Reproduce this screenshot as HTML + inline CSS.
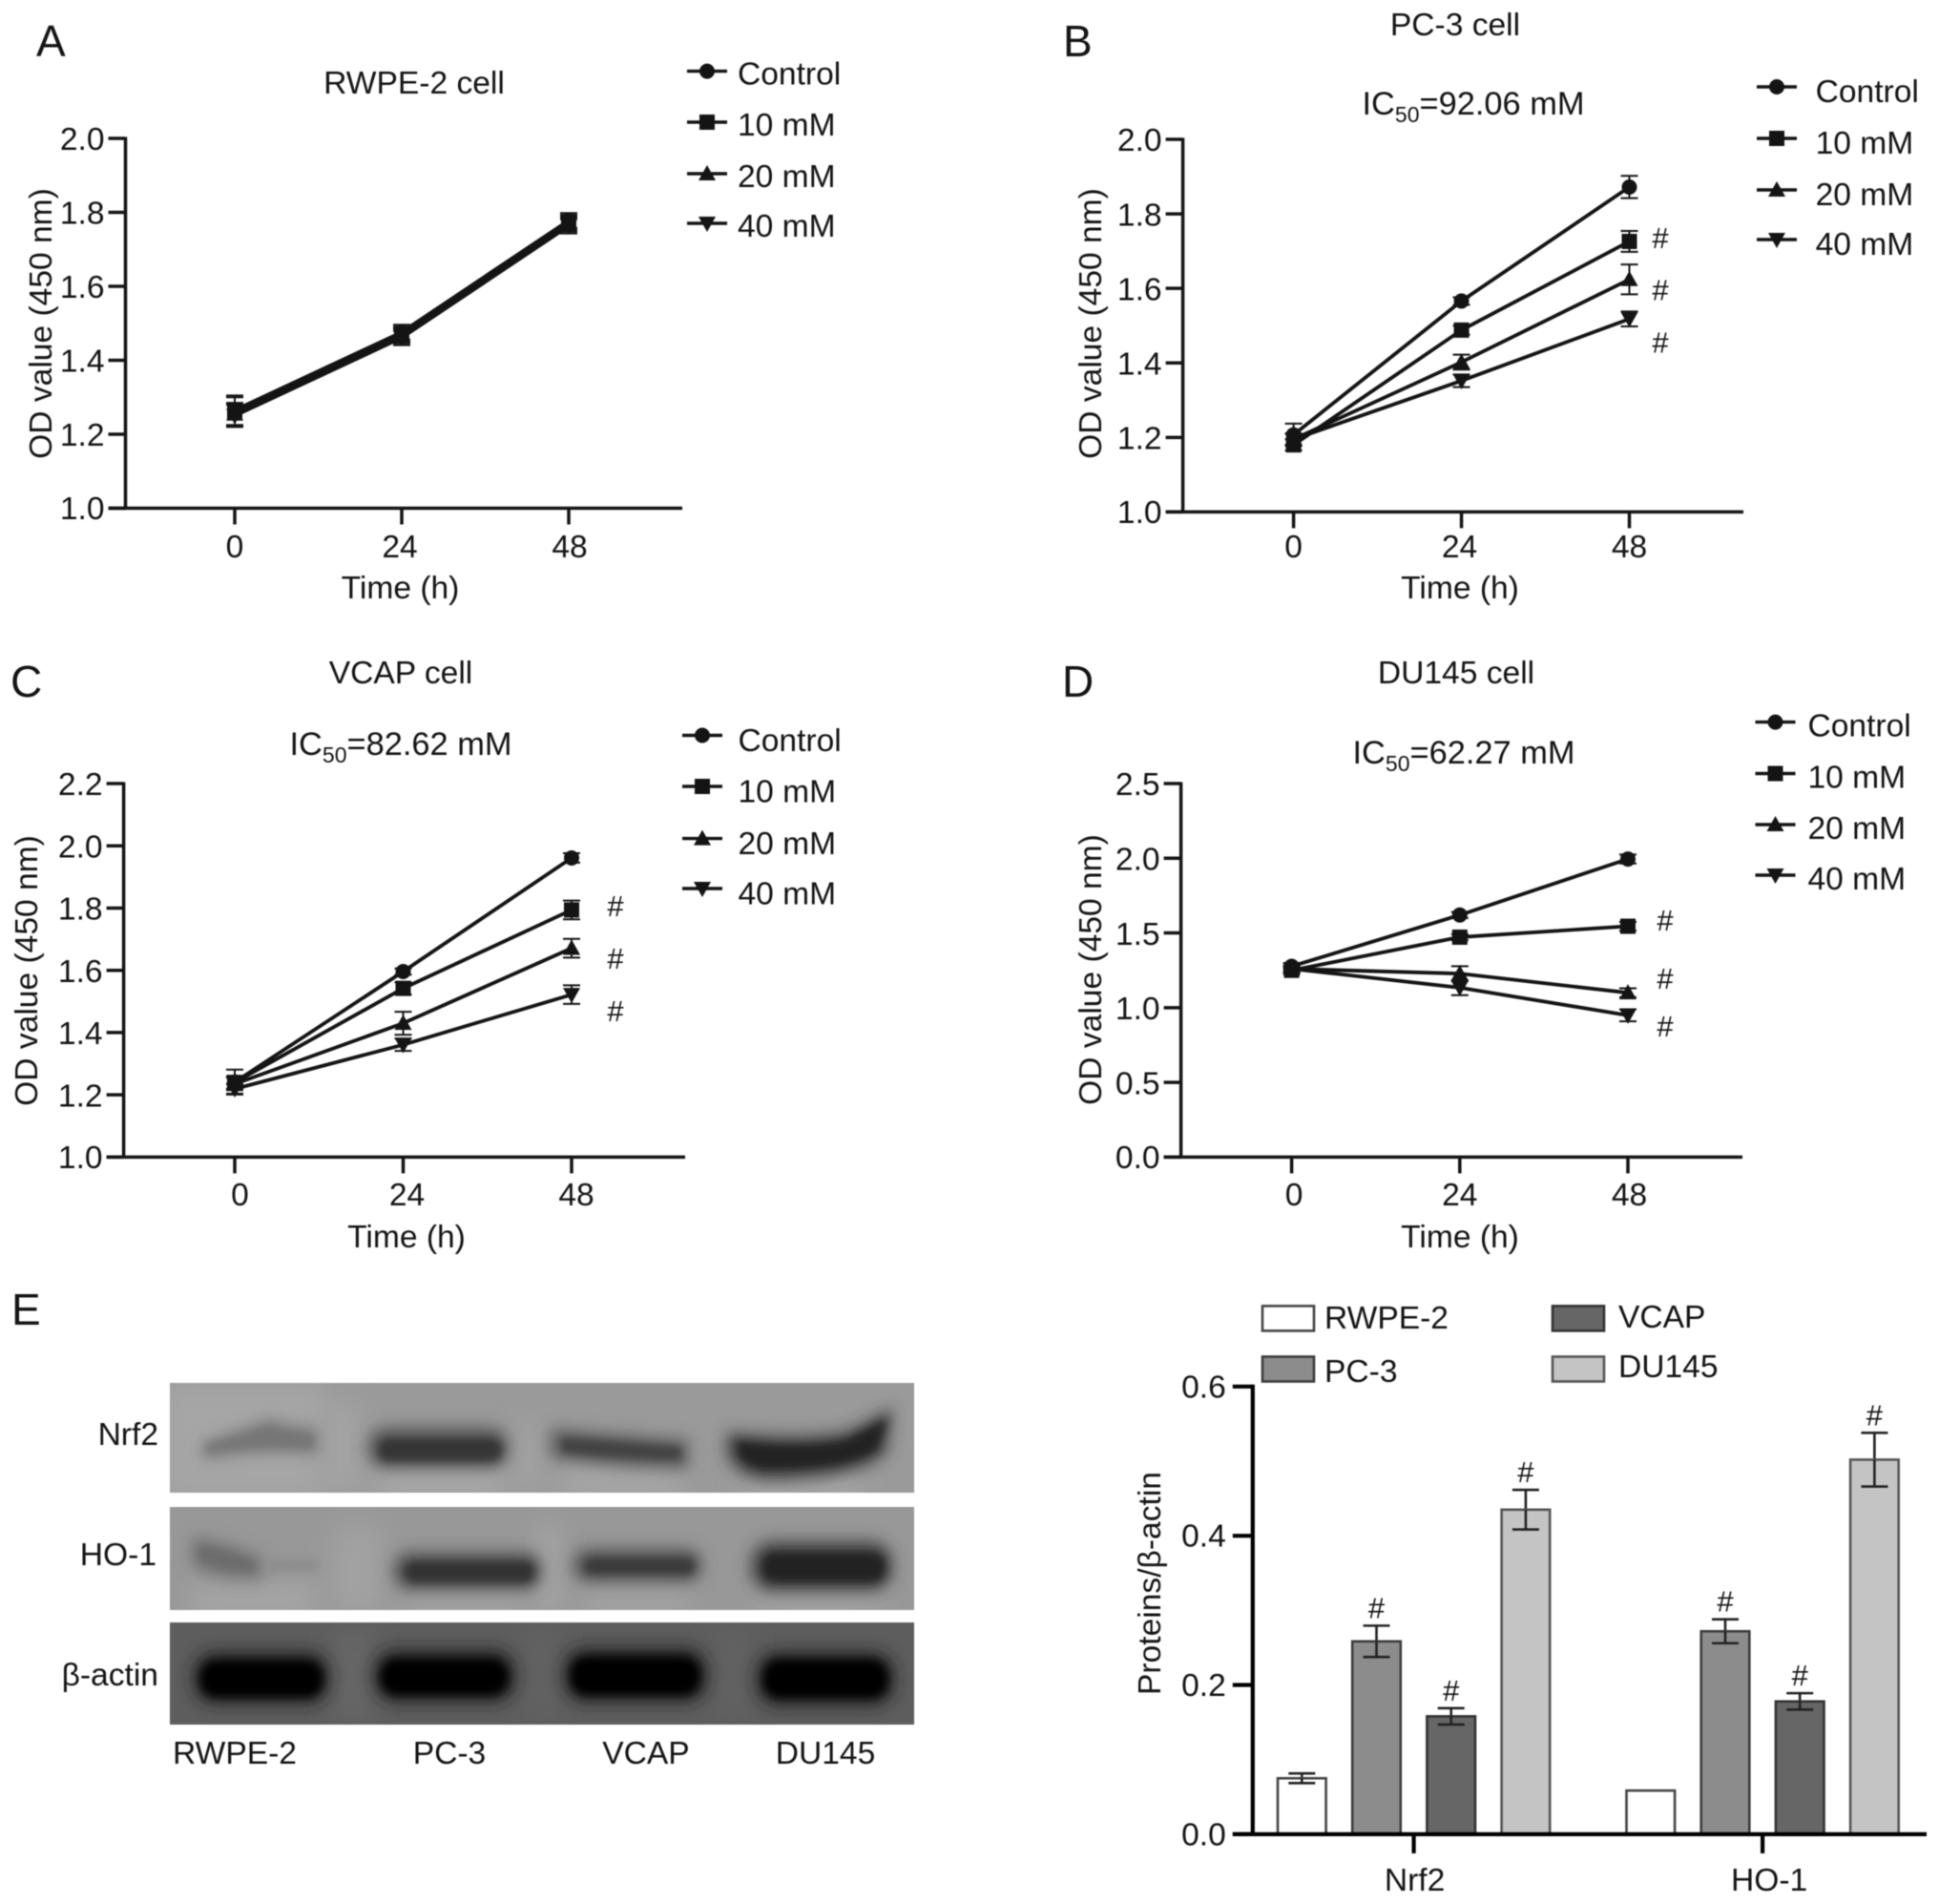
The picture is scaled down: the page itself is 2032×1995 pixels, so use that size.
<!DOCTYPE html>
<html lang="en">
<head>
<meta charset="utf-8">
<title>Cell viability and Nrf2 / HO-1 expression</title>
<style>
html,body{margin:0;padding:0;background:#fff;}
#figure{display:block;width:2032px;height:1995px;filter:blur(0.6px);}
text{font-family:"Liberation Sans",Arial,"DejaVu Sans",sans-serif;fill:#141414;font-size:33.6px;}
</style>
</head>
<body>
<svg id="figure" xmlns="http://www.w3.org/2000/svg" width="2032" height="1995" viewBox="0 0 2032 1995">
<defs>
<filter id="blur4" x="-30%" y="-80%" width="160%" height="260%"><feGaussianBlur stdDeviation="4.5"/></filter>
<filter id="blur7" x="-30%" y="-80%" width="160%" height="260%"><feGaussianBlur stdDeviation="8"/></filter>
<filter id="blur9" x="-40%" y="-60%" width="180%" height="220%"><feGaussianBlur stdDeviation="13"/></filter>
<clipPath id="row1"><rect x="178" y="1449" width="780" height="115"/></clipPath>
<clipPath id="row2"><rect x="178" y="1579" width="780" height="108"/></clipPath>
<clipPath id="row3"><rect x="178" y="1700" width="780" height="107"/></clipPath>
</defs>

<!-- panel letters -->
<text x="38" y="59" style="font-size:46px">A</text>
<text x="1114" y="59" style="font-size:46px">B</text>
<text x="11" y="730" style="font-size:46px">C</text>
<text x="1113" y="730" style="font-size:46px">D</text>
<text x="12" y="1388" style="font-size:46px">E</text>

<!-- titles -->
<text x="434" y="98" text-anchor="middle">RWPE-2 cell</text>
<text x="1525" y="37" text-anchor="middle">PC-3 cell</text>
<text x="1544" y="120" text-anchor="middle" style="font-size:34.4px">IC<tspan dy="8" style="font-size:23px">50</tspan><tspan dy="-8">=92.06 mM</tspan></text>
<text x="420" y="716" text-anchor="middle">VCAP cell</text>
<text x="420" y="791" text-anchor="middle" style="font-size:34.4px">IC<tspan dy="8" style="font-size:23px">50</tspan><tspan dy="-8">=82.62 mM</tspan></text>
<text x="1526" y="716" text-anchor="middle">DU145 cell</text>
<text x="1534" y="800" text-anchor="middle" style="font-size:34.4px">IC<tspan dy="8" style="font-size:23px">50</tspan><tspan dy="-8">=62.27 mM</tspan></text>

<!-- western blot -->
<g>
  <g clip-path="url(#row1)">
    <rect x="178" y="1449" width="780" height="115" fill="#9a9a9a"/>
    <g filter="url(#blur9)">
      <rect x="170" y="1450" width="170" height="120" fill="#a6a6a6"/>
      <rect x="395" y="1530" width="130" height="40" fill="#a8a8a8"/>
      <rect x="590" y="1530" width="125" height="40" fill="#a6a6a6"/>
      <rect x="780" y="1545" width="120" height="25" fill="#aaaaaa"/>
      <rect x="352" y="1470" width="20" height="95" fill="#a8a8a8"/>
      <rect x="545" y="1490" width="20" height="75" fill="#a4a4a4"/>
    </g>
    <g filter="url(#blur7)">
      <path d="M212 1512 Q250 1498 282 1486 Q305 1494 334 1496 L334 1524 Q270 1518 212 1530Z" fill="#727272" opacity=".75"/>
      <rect x="385" y="1495" width="148" height="44" rx="20" fill="#4a4a4a" opacity=".8"/>
      <path d="M576 1496 Q650 1502 722 1508 L722 1540 Q650 1540 576 1528Z" fill="#555" opacity=".8"/>
      <path d="M762 1500 Q850 1508 890 1498 L936 1474 L930 1522 Q900 1552 800 1552 Q766 1546 760 1520Z" fill="#3a3a3a" opacity=".8"/>
    </g>
    <g filter="url(#blur4)">
      <path d="M216 1514 Q250 1506 282 1494 Q300 1500 328 1503 L328 1518 Q270 1514 216 1522Z" fill="#767676"/>
      <rect x="396" y="1507" width="130" height="24" rx="11" fill="#343434"/>
      <path d="M588 1506 Q650 1510 714 1516 L714 1530 Q650 1530 588 1522Z" fill="#424242"/>
      <path d="M772 1510 Q850 1518 888 1508 L930 1486 L920 1518 Q895 1540 802 1540 Q776 1536 772 1520Z" fill="#242424"/>
    </g>
  </g>
  <g clip-path="url(#row2)">
    <rect x="178" y="1579" width="780" height="108" fill="#989898"/>
    <g filter="url(#blur9)">
      <rect x="200" y="1660" width="130" height="35" fill="#a6a6a6"/>
      <rect x="425" y="1672" width="120" height="22" fill="#a6a6a6"/>
      <rect x="612" y="1668" width="110" height="24" fill="#a4a4a4"/>
      <rect x="795" y="1675" width="130" height="20" fill="#a6a6a6"/>
      <rect x="565" y="1600" width="20" height="90" fill="#a8a8a8"/>
      <rect x="350" y="1600" width="50" height="90" fill="#a2a2a2"/>
    </g>
    <g filter="url(#blur7)">
      <path d="M200 1610 Q244 1614 278 1634 L276 1654 Q230 1660 200 1640Z" fill="#6f6f6f" opacity=".8"/>
      <rect x="412" y="1626" width="156" height="40" rx="18" fill="#464646" opacity=".8"/>
      <rect x="600" y="1622" width="136" height="36" rx="16" fill="#4e4e4e" opacity=".8"/>
      <rect x="786" y="1614" width="150" height="54" rx="24" fill="#383838" opacity=".8"/>
    </g>
    <g filter="url(#blur4)">
      <path d="M208 1620 Q240 1622 268 1638 L266 1646 Q232 1648 208 1634Z" fill="#6c6c6c"/>
      <rect x="278" y="1634" width="56" height="12" rx="6" fill="#8c8c8c"/>
      <rect x="424" y="1636" width="136" height="22" rx="10" fill="#303030"/>
      <rect x="612" y="1632" width="116" height="18" rx="8" fill="#3a3a3a"/>
      <rect x="798" y="1626" width="130" height="32" rx="14" fill="#202020"/>
    </g>
  </g>
  <g clip-path="url(#row3)">
    <rect x="178" y="1700" width="780" height="107" fill="#5d5d5d"/>
    <g filter="url(#blur9)">
      <rect x="350" y="1705" width="40" height="100" fill="#666"/>
      <rect x="550" y="1705" width="35" height="100" fill="#626262"/>
      <rect x="750" y="1705" width="35" height="100" fill="#626262"/>
    </g>
    <g filter="url(#blur7)" fill="#1a1a1a" opacity=".85">
      <rect x="202" y="1730" width="144" height="56" rx="24"/>
      <rect x="391" y="1728" width="150" height="56" rx="24"/>
      <rect x="590" y="1726" width="152" height="58" rx="24"/>
      <rect x="792" y="1730" width="146" height="58" rx="24"/>
    </g>
    <g filter="url(#blur4)" fill="#030303">
      <rect x="210" y="1740" width="128" height="38" rx="17"/>
      <rect x="399" y="1738" width="133" height="38" rx="17"/>
      <rect x="598" y="1736" width="135" height="40" rx="17"/>
      <rect x="800" y="1739" width="130" height="40" rx="17"/>
    </g>
  </g>
</g>
<text x="166" y="1514" text-anchor="end">Nrf2</text>
<text x="164" y="1640" text-anchor="end">HO-1</text>
<text x="166" y="1766" text-anchor="end">β-actin</text>
<text x="246" y="1848" text-anchor="middle">RWPE-2</text>
<text x="471" y="1848" text-anchor="middle">PC-3</text>
<text x="677" y="1848" text-anchor="middle">VCAP</text>
<text x="865" y="1848" text-anchor="middle">DU145</text>

<g id="plots"></g>
</svg>

<script>
// ---- shared categories ----
const timePoints = [0, 24, 48];
const doseNames = ['Control', '10 mM', '20 mM', '40 mM'];
const markerKinds = ['circle', 'square', 'up', 'down'];

// ---- panel A: RWPE-2 ----
const aTicks = [1.0, 1.2, 1.4, 1.6, 1.8, 2.0];
const aControl = [1.265, 1.476, 1.778];
const aTen = [1.26, 1.471, 1.773];
const aTwenty = [1.255, 1.466, 1.768];
const aForty = [1.25, 1.461, 1.763];
const aControlErr = [0.04, 0.02, 0.02];
const aTenErr = [0.04, 0.02, 0.02];
const aTwentyErr = [0.03, 0.02, 0.02];
const aFortyErr = [0.03, 0.02, 0.02];

// ---- panel B: PC-3 ----
const bTicks = [1.0, 1.2, 1.4, 1.6, 1.8, 2.0];
const bControl = [1.207, 1.566, 1.872];
const bTen = [1.18, 1.488, 1.726];
const bTwenty = [1.195, 1.402, 1.624];
const bForty = [1.195, 1.352, 1.518];
const bControlErr = [0.03, 0.01, 0.03];
const bTenErr = [0.015, 0.012, 0.028];
const bTwentyErr = [0.015, 0.02, 0.04];
const bFortyErr = [0.015, 0.017, 0.02];

// ---- panel C: VCAP ----
const cTicks = [1.0, 1.2, 1.4, 1.6, 1.8, 2.0, 2.2];
const cControl = [1.241, 1.596, 1.961];
const cTen = [1.24, 1.542, 1.794];
const cTwenty = [1.235, 1.43, 1.671];
const cForty = [1.219, 1.361, 1.522];
const cControlErr = [0.04, 0.01, 0.015];
const cTenErr = [0.02, 0.02, 0.03];
const cTwentyErr = [0.02, 0.037, 0.03];
const cFortyErr = [0.015, 0.02, 0.03];

// ---- panel D: DU145 ----
const dTicks = [0.0, 0.5, 1.0, 1.5, 2.0, 2.5];
const dControl = [1.277, 1.62, 1.995];
const dTen = [1.25, 1.472, 1.545];
const dTwenty = [1.26, 1.228, 1.1];
const dForty = [1.26, 1.134, 0.949];
const dControlErr = [0.02, 0.02, 0.03];
const dTenErr = [0.02, 0.02, 0.03];
const dTwentyErr = [0.02, 0.05, 0.03];
const dFortyErr = [0.02, 0.05, 0.04];

// ---- panel E: bar chart ----
const barGroups = ['Nrf2', 'HO-1'];
const barSeriesNames = ['RWPE-2', 'PC-3', 'VCAP', 'DU145'];
const barFills = ['#ffffff', '#8c8c8c', '#666666', '#c4c4c4'];
const barStrokes = ['#444444', '#3c3c3c', '#333333', '#555555'];
const barTicks = [0.0, 0.2, 0.4, 0.6];
const barNrf2 = [0.075, 0.2585, 0.158, 0.435];
const barHo1 = [0.0585, 0.272, 0.178, 0.502];
const barNrf2Err = [0.0065, 0.021, 0.011, 0.0265];
const barHo1Err = [0, 0.016, 0.011, 0.036];
const barNrf2Sig = [false, true, true, true];
const barHo1Sig = [false, true, true, true];

const NS = 'http://www.w3.org/2000/svg';
const root = document.getElementById('plots');
const INK = '#141414';

function svgEl(parent, tag, attrs) {
  const el = document.createElementNS(NS, tag);
  for (const k in attrs) el.setAttribute(k, attrs[k]);
  parent.appendChild(el);
  return el;
}
function strokeLine(parent, x1, y1, x2, y2, w, color) {
  return svgEl(parent, 'line', {x1: x1, y1: y1, x2: x2, y2: y2, stroke: color || INK, 'stroke-width': w});
}
function label(parent, str, x, y, anchor) {
  const el = svgEl(parent, 'text', {x: x, y: y, 'text-anchor': anchor || 'middle'});
  el.textContent = str;
  return el;
}
function marker(parent, kind, cx, cy) {
  if (kind === 'circle') return svgEl(parent, 'circle', {cx: cx, cy: cy, r: 8, fill: INK});
  if (kind === 'square') return svgEl(parent, 'rect', {x: cx - 8, y: cy - 8, width: 16, height: 16, fill: INK});
  if (kind === 'up') return svgEl(parent, 'polygon', {points: [cx, cy - 9, cx + 9, cy + 7, cx - 9, cy + 7].join(','), fill: INK});
  return svgEl(parent, 'polygon', {points: [cx, cy + 9, cx + 9, cy - 7, cx - 9, cy - 7].join(','), fill: INK});
}

function lineChart(c, ticks, series, errors) {
  const g = svgEl(root, 'g', {});
  
  
  const yMin = ticks[0], yMax = ticks[ticks.length - 1];
  const yScale = v => c.yBase - (v - yMin) * (c.yBase - c.yTop) / (yMax - yMin);
  const tMax = timePoints[timePoints.length - 1];
  const xScale = t => c.x0 + t * (c.x48 - c.x0) / tMax;

  // axes
  const yAxis = strokeLine(g, c.axisX, yScale(yMax) - 1.5, c.axisX, c.yBase + 1.5, 3.5);
  
  
  const xAxis = strokeLine(g, c.axisX - 18, c.yBase, c.xEnd, c.yBase, 3.5);
  
  
  ticks.forEach(function (v, i) {
    strokeLine(g, c.axisX - 18, yScale(v), c.axisX, yScale(v), 3.5);
    const t = label(g, v.toFixed(1), c.axisX - 22, yScale(v) + (i === 0 ? 11.5 : 12.2), 'end');
    
    
  });
  timePoints.forEach(function (t, i) {
    strokeLine(g, xScale(t), c.yBase, xScale(t), c.yBase + 17, 3.5);
    const lab = label(g, String(t), xScale(t) + c.labelDx[i], c.tickLabelY);
    
    
  });
  const xTitle = label(g, 'Time (h)', c.xTitleX, c.xTitleY);
  
  
  const yTitle = label(g, 'OD value (450 nm)', 0, 0);
  yTitle.setAttribute('transform', 'translate(' + c.yTitleX + ',' + c.yTitleY + ') rotate(-90)');
  
  

  // series
  series.forEach(function (vals, s) {
    const sg = svgEl(g, 'g', {});
    
    
    vals.forEach(function (v, i) {
      const x = xScale(timePoints[i]);
      const e = errors[s][i];
      strokeLine(sg, x, yScale(v + e), x, yScale(v - e), 2);
      strokeLine(sg, x - 9, yScale(v + e), x + 9, yScale(v + e), 2);
      strokeLine(sg, x - 9, yScale(v - e), x + 9, yScale(v - e), 2);
    });
    const path = svgEl(sg, 'polyline', {
      points: vals.map((v, i) => xScale(timePoints[i]) + ',' + yScale(v)).join(' '),
      fill: 'none', stroke: INK, 'stroke-width': 3.8
    });
    
    
    vals.forEach(function (v, i) {
      const m = marker(sg, markerKinds[s], xScale(timePoints[i]), yScale(v));
      
      
    });
  });

  // significance marks
  c.hashY.forEach(function (y) {
    const h = label(g, '#', c.hashX, y + 11);
    h.style.fontSize = '31px';
    
    
  });

  // legend
  doseNames.forEach(function (name, i) {
    const lg = svgEl(g, 'g', {});
    
    
    strokeLine(lg, c.legX - 21, c.legY[i], c.legX + 21, c.legY[i], 3.4);
    marker(lg, markerKinds[i], c.legX, c.legY[i]);
    label(lg, name, c.legTextX, c.legY[i] + c.legTextDy, 'start');
  });
}

lineChart({id: 'a', x0: 246, x48: 596, yBase: 532.5, yTop: 145, axisX: 131.5, xEnd: 715,
  labelDx: [0, -2, 1], tickLabelY: 584, xTitleX: 419.5, xTitleY: 627, yTitleX: 54, yTitleY: 339,
  hashX: 0, hashY: [], legX: 741, legTextX: 773, legTextDy: 14, legY: [74.6, 128, 182, 234]},
  aTicks, [aControl, aTen, aTwenty, aForty], [aControlErr, aTenErr, aTwentyErr, aFortyErr]);

lineChart({id: 'b', x0: 1355.6, x48: 1707.5, yBase: 536.4, yTop: 146, axisX: 1239.6, xEnd: 1827,
  labelDx: [0, -2, 0], tickLabelY: 584, xTitleX: 1530, xTitleY: 627, yTitleX: 1154, yTitleY: 339,
  hashX: 1740, hashY: [249, 303.5, 358.6], legX: 1862, legTextX: 1902.6, legTextDy: 16, legY: [91, 145, 199, 251]},
  bTicks, [bControl, bTen, bTwenty, bForty], [bControlErr, bTenErr, bTwentyErr, bFortyErr]);

lineChart({id: 'c', x0: 246, x48: 599, yBase: 1212.4, yTop: 821, axisX: 129.6, xEnd: 718,
  labelDx: [5.5, 4, 5], tickLabelY: 1263, xTitleX: 426, xTitleY: 1307, yTitleX: 39, yTitleY: 1017,
  hashX: 645, hashY: [949, 1004, 1059], legX: 736, legTextX: 773.5, legTextDy: 16.5, legY: [770.5, 824, 878.6, 931]},
  cTicks, [cControl, cTen, cTwenty, cForty], [cControlErr, cTenErr, cTwentyErr, cFortyErr]);

lineChart({id: 'd', x0: 1353.6, x48: 1706, yBase: 1212.4, yTop: 821, axisX: 1237.6, xEnd: 1826,
  labelDx: [2.5, 0, 1.5], tickLabelY: 1263, xTitleX: 1530, xTitleY: 1307, yTitleX: 1154, yTitleY: 1016,
  hashX: 1745, hashY: [964, 1025, 1075], legX: 1860.5, legTextX: 1894.5, legTextDy: 15, legY: [756.6, 810.5, 864, 917]},
  dTicks, [dControl, dTen, dTwenty, dForty], [dControlErr, dTenErr, dTwentyErr, dFortyErr]);

// ---- bar chart ----
(function () {
  const g = svgEl(root, 'g', {});
  
  
  const yBase = 1921.9, yTop = 1452.8, axisX = 1312.8, xEnd = 2019;
  const yMax = barTicks[barTicks.length - 1];
  const yScale = v => yBase - v * (yBase - yTop) / yMax;
  const groupStart = g_i => 1339 + g_i * 365.5;
  const step = 78.2, barW = 50.6;
  const groupVals = [barNrf2, barHo1];
  const groupErr = [barNrf2Err, barHo1Err];
  const groupSig = [barNrf2Sig, barHo1Sig];

  groupVals.forEach(function (vals, gi) {
    vals.forEach(function (v, s) {
      const x = groupStart(gi) + s * step;
      const cx = x + barW / 2;
      const e = groupErr[gi][s];
      if (e > 0) {
        strokeLine(g, cx, yScale(v + e), cx, yScale(v - e), 2.6, '#222');
        strokeLine(g, cx - 14, yScale(v + e), cx + 14, yScale(v + e), 2.6, '#222');
      }
      const bar = svgEl(g, 'rect', {x: x, y: yScale(v), width: barW, height: yBase - yScale(v),
        fill: barFills[s], stroke: barStrokes[s], 'stroke-width': 2.6});
      
      
      if (e > 0) {
        strokeLine(g, cx, yScale(v), cx, yScale(v - e), 2.6, '#222');
        strokeLine(g, cx - 14, yScale(v - e), cx + 14, yScale(v - e), 2.6, '#222');
      }
      if (groupSig[gi][s]) {
        const h = label(g, '#', cx, yScale(v + e) - 8);
        h.style.fontSize = '31px';
        
        
      }
    });
  });

  const yAxis = strokeLine(g, axisX, yTop - 2, axisX, yBase + 2, 4.2, '#000');
  
  
  const xAxis = strokeLine(g, axisX - 21, yBase, xEnd, yBase, 4.2, '#000');
  
  
  barTicks.forEach(function (v) {
    strokeLine(g, axisX - 21, yScale(v), axisX, yScale(v), 4.2, '#000');
    const t = label(g, v.toFixed(1), axisX - 28, yScale(v) + 11.5, 'end');
    
    
  });
  const xLabelDx = [1, 7];
  barGroups.forEach(function (name, gi) {
    const cx = groupStart(gi) + (3 * step + barW) / 2;
    strokeLine(g, cx, yBase, cx, yBase + 20, 4.2, '#000');
    const t = label(g, name, cx + xLabelDx[gi], 1981);
    
    
  });
  const yTitle = label(g, 'Proteins/β-actin', 0, 0);
  yTitle.setAttribute('transform', 'translate(1216,1659) rotate(-90)');
  
  

  // legend layout: two columns of two rows
  const legendSlots = [{x: 1323, y: 1368.4, tx: 1388, ty: 1392}, {x: 1323, y: 1421.5, tx: 1388, ty: 1448},
                       {x: 1627, y: 1368.4, tx: 1696, ty: 1391}, {x: 1627, y: 1421.5, tx: 1696, ty: 1443}];
  barSeriesNames.forEach(function (name, i) {
    const lg = svgEl(g, 'g', {});
    
    
    const slot = legendSlots[i];
    svgEl(lg, 'rect', {x: slot.x, y: slot.y, width: 54, height: 26, fill: barFills[i], stroke: barStrokes[i], 'stroke-width': 2.6});
    label(lg, name, slot.tx, slot.ty, 'start');
  });
})();
</script>
</body>
</html>
